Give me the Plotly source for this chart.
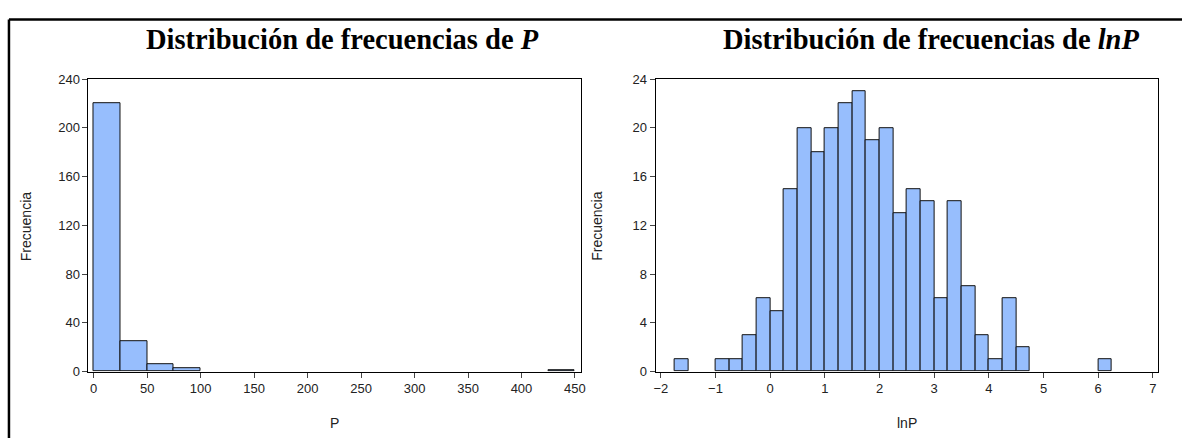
import plotly.graph_objects as go

# ---- data ----
p_bin_start = [0, 25, 50, 75, 425]
p_counts = [220, 25, 6, 3, 1]
p_bin_width = 25

lnp_bin_start = [-1.75, -1.0, -0.75, -0.5, -0.25, 0.0, 0.25, 0.5, 0.75, 1.0,
                 1.25, 1.5, 1.75, 2.0, 2.25, 2.5, 2.75, 3.0, 3.25, 3.5,
                 3.75, 4.0, 4.25, 4.5, 6.0]
lnp_counts = [1, 1, 1, 3, 6, 5, 15, 20, 18, 20,
              22, 23, 19, 20, 13, 15, 14, 6, 14, 7,
              3, 1, 6, 2, 1]
lnp_bin_width = 0.25

p_xticks = [0, 50, 100, 150, 200, 250, 300, 350, 400, 450]
p_yticks = [0, 40, 80, 120, 160, 200, 240]
lnp_xticks = [-2, -1, 0, 1, 2, 3, 4, 5, 6, 7]
lnp_yticks = [0, 4, 8, 12, 16, 20, 24]

W, H = 1187, 446
BAR_FILL = "#97BEFD"

fig = go.Figure()
fig.add_trace(go.Bar(
    x=[s + p_bin_width / 2 for s in p_bin_start], y=p_counts,
    width=[p_bin_width] * len(p_counts),
    marker=dict(color=BAR_FILL, line=dict(color="#111111", width=1)),
    xaxis="x", yaxis="y", showlegend=False))
fig.add_trace(go.Bar(
    x=[s + lnp_bin_width / 2 for s in lnp_bin_start], y=lnp_counts,
    width=[lnp_bin_width] * len(lnp_counts),
    marker=dict(color=BAR_FILL, line=dict(color="#111111", width=1)),
    xaxis="x2", yaxis="y2", showlegend=False))

def px(x):
    return x / W

def py(y):
    return (H - y) / H

tickfont = dict(family="Liberation Sans, Arial, sans-serif", size=13, color="#222222")
common = dict(showgrid=False, zeroline=False, showline=True, mirror=True,
              linecolor="black", linewidth=1, ticks="outside", ticklen=5,
              tickcolor="#444444", tickfont=tickfont)

ydom = [py(377.3), py(74.7)]
fig.update_layout(
    width=W, height=H,
    margin=dict(l=0, r=0, t=0, b=0),
    paper_bgcolor="white", plot_bgcolor="white",
    bargap=0,
    xaxis=dict(domain=[px(87), px(582.7)], range=[-4.9, 455.9],
               tickvals=p_xticks, anchor="y", **common),
    yaxis=dict(domain=ydom, range=[0, 240], tickvals=p_yticks,
               anchor="x", **common),
    xaxis2=dict(domain=[px(657.5), px(1162.5)], range=[-2.095, 7.087],
                tickvals=lnp_xticks, anchor="y2", **common),
    yaxis2=dict(domain=ydom, range=[0, 24], tickvals=lnp_yticks,
                anchor="x2", **common),
)

title_font = dict(family="Liberation Serif, Times New Roman, serif", size=28.5, color="black")
label_font = dict(family="Liberation Sans, Arial, sans-serif", size=14, color="#222222")
annotations = [
    dict(text="<b>Distribución de frecuencias de <i>P</i></b>", x=px(143), y=py(33.5),
         font=title_font, xanchor="left"),
    dict(text="<b>Distribución de frecuencias de <i>lnP</i></b>", x=px(723), y=py(33.5),
         font=title_font, xanchor="left"),
    dict(text="Frecuencia", x=px(25), y=py(227), textangle=-90, font=label_font),
    dict(text="Frecuencia", x=px(599), y=py(227), textangle=-90, font=label_font),
    dict(text="P", x=px(334.9), y=py(430), font=label_font),
    dict(text="lnP", x=px(910), y=py(430), font=label_font),
]
for a in annotations:
    a.setdefault("xanchor", "center")
    a.update(xref="paper", yref="paper", showarrow=False, yanchor="middle")
fig.update_layout(annotations=annotations)

fig.update_layout(shapes=[
    dict(type="line", xref="paper", yref="paper", x0=px(7), x1=px(7),
         y0=0, y1=py(13), line=dict(color="black", width=2.5)),
    dict(type="line", xref="paper", yref="paper", x0=px(7), x1=1,
         y0=py(13), y1=py(13), line=dict(color="black", width=2.5)),
])

fig.write_html("out.html",
               config={"displayModeBar": False},
               post_script="document.body.style.margin='0px';"
                           "document.body.style.overflow='hidden';")
